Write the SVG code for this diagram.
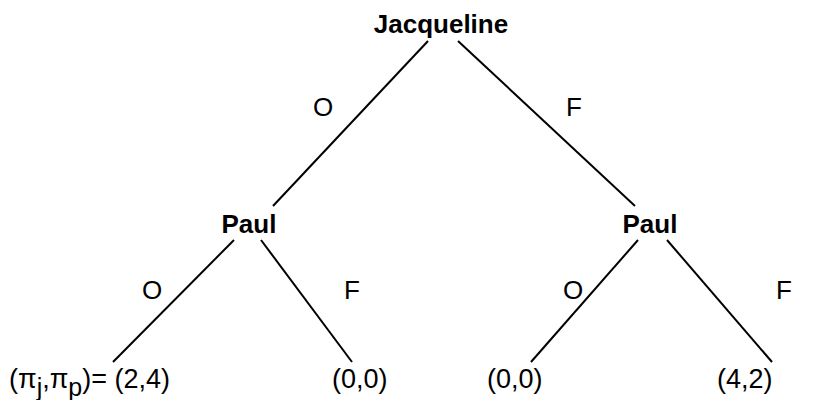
<svg xmlns="http://www.w3.org/2000/svg" width="828" height="400" viewBox="0 0 828 400">
<style>
.node{font-family:"Liberation Sans",Arial,sans-serif;font-weight:bold;font-size:26px;fill:#000;text-anchor:middle}
.lbl{font-family:"Liberation Sans",Arial,sans-serif;font-size:26px;fill:#000;text-anchor:middle}
.pay{font-family:"Liberation Sans",Arial,sans-serif;font-size:27px;fill:#000}
.edge{stroke:#000;stroke-width:2;fill:none}
</style>
<rect width="828" height="400" fill="#fff"/>
<g id="connectors">
<line class="edge" x1="428" y1="41" x2="273" y2="206"/>
<line class="edge" x1="458" y1="41" x2="635" y2="206"/>
<line class="edge" x1="234" y1="240" x2="113" y2="362"/>
<line class="edge" x1="261" y1="240" x2="352" y2="362"/>
<line class="edge" x1="638" y1="240" x2="531" y2="362"/>
<line class="edge" x1="667" y1="240" x2="772" y2="362"/>
<text class="lbl" x="323" y="116">O</text>
<text class="lbl" x="574" y="116">F</text>
<text class="lbl" x="152" y="299">O</text>
<text class="lbl" x="352" y="299">F</text>
<text class="lbl" x="573" y="299">O</text>
<text class="lbl" x="784" y="299">F</text>
</g>
<g id="jacqueline"><text class="node" x="441" y="33">Jacqueline</text></g>
<g id="paul-left"><text class="node" x="249" y="233">Paul</text></g>
<g id="paul-right"><text class="node" x="650" y="233">Paul</text></g>
<g id="payoff-1"><text class="pay" x="9" y="388">(π<tspan font-size="25" dy="8">j</tspan><tspan dy="-8">,π</tspan><tspan font-size="25" dy="8">p</tspan><tspan dy="-8">)= (2,4)</tspan></text></g>
<g id="payoff-2"><text class="pay" x="332" y="388">(0,0)</text></g>
<g id="payoff-3"><text class="pay" x="487" y="388">(0,0)</text></g>
<g id="payoff-4"><text class="pay" x="717" y="388">(4,2)</text></g>
</svg>
